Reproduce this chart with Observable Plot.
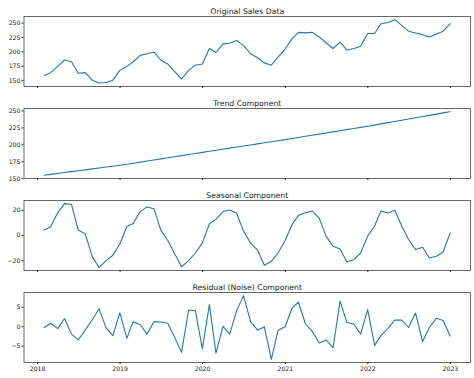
<!DOCTYPE html>
<html>
<head>
<meta charset="utf-8">
<script src="https://cdn.jsdelivr.net/npm/d3@7"></script>
<script src="https://cdn.jsdelivr.net/npm/@observablehq/plot@0.6"></script>
<style>
  html, body { margin: 0; padding: 0; background: #fff; }
  #chart { position: relative; width: 474px; height: 378px; overflow: hidden; }
  #chart > div { position: absolute; left: 0; }
  svg { font-family: "DejaVu Sans", sans-serif; }
</style>
</head>
<body>
<div id="chart"></div>
<script>
// Titles
const titles = ["Original Sales Data", "Trend Component", "Seasonal Component", "Residual (Noise) Component"];

// Monthly series, Jan 2018 .. Dec 2022 (month-end)
const sales = [159,164,175,186,183,163,164,151,146,147,151,168,
  175,183,194,197,200,186,179,166,153,168,177,179,
  206,199,214,215,220,211,197,190,181,177,191,205,
  223,234,233,234,226,216,206,217,203,206,210,232,
  232,249,251,256,246,236,233,230,226,231,236,249];
const trend = [155,156.4,157.7,159.1,160.4,161.8,163.1,164.5,165.8,167.2,168.5,169.9,
  171.3,172.9,174.5,176.1,177.7,179.3,180.9,182.5,184.1,185.7,187.3,188.9,
  190.5,192.0,193.6,195.2,196.8,198.3,199.9,201.5,203.0,204.6,206.1,207.7,
  209.3,210.9,212.6,214.2,215.9,217.5,219.2,220.8,222.5,224.1,225.8,227.4,
  229.2,231.0,232.8,234.6,236.4,238.2,240.0,241.8,243.6,245.4,247.2,249.0];
const seasonal = [4.3,7,18,25.3,24.8,4.3,1.3,-17,-25.3,-20,-15.7,-6.7,
  7.2,9.6,19,22.7,21.3,4.3,-4,-14.7,-24.8,-20,-13.9,-5.9,
  9.3,12.8,19,20.3,17.6,3.5,-5.9,-11.7,-23.7,-20.5,-13.9,-4,
  8.8,16,18.1,19.5,13.6,-0.5,-8.5,-10.7,-21,-19.2,-13.9,-0.5,
  7.5,19.5,17.9,20,7.5,-3.2,-11.2,-9.3,-17.9,-16.5,-13.1,2.1];
const residual = [-0.2,0.9,-0.5,2.1,-1.9,-3.4,-0.8,1.8,4.6,-0.3,-2.3,3.6,
  -3.0,1.3,0.5,-1.9,1.3,1.2,0.9,-2.8,-6.6,4.3,4.1,-5.7,
  5.7,-6.8,0.1,-1.9,4.2,8.0,1.3,-0.9,0,-8.4,-0.9,0,
  4.8,6.3,0.7,-1.2,-4.2,-3.4,-5.4,6.6,1.1,0.7,-1.9,4.4,
  -4.8,-2.3,-0.4,1.7,1.7,-0.2,3.5,-3.8,-0.2,2.2,1.6,-2.4];

// Tick labels
const yearTicks = ["2018-01-01","2019-01-01","2020-01-01","2021-01-01","2022-01-01","2023-01-01"];
const salesTicks = [150,175,200,225,250];
const seasonalTicks = [-20,0,20];
const residualTicks = [-5,0,5];

// Month-end dates
const dates = d3.utcMonth.range(new Date(Date.UTC(2018,1,1)), new Date(Date.UTC(2023,1,1)))
  .map(d => new Date(+d - 864e5));

const xDomain = [new Date(Date.UTC(2017,10,2)), new Date(Date.UTC(2023,2,31))];

const panels = [
  {title: titles[0], values: sales, domain: [140, 261.5], ticks: salesTicks, top: 15.5},
  {title: titles[1], values: trend, domain: [150.3, 253.7], ticks: salesTicks, top: 107.5},
  {title: titles[2], values: seasonal, domain: [-27.8, 27.8], ticks: seasonalTicks, top: 200},
  {title: titles[3], values: residual, domain: [-9.2, 8.8], ticks: residualTicks, top: 292}
];

const chart = document.getElementById("chart");
const frameH = 70;
const mTop = 16;

panels.forEach((p, k) => {
  const last = k === panels.length - 1;
  const mBottom = last ? 16 : 6;
  const rows = dates.map((d, i) => ({date: d, value: p.values[i]}));
  const plot = Plot.plot({
    width: 474,
    height: mTop + frameH + mBottom,
    marginTop: mTop,
    marginBottom: mBottom,
    marginLeft: 23.5,
    marginRight: 4,
    style: {fontFamily: "DejaVu Sans, sans-serif", fontSize: "6.2px", color: "#222", background: "white"},
    x: {type: "utc", domain: xDomain, label: null},
    y: {domain: p.domain, label: null},
    marks: [
      Plot.line(rows, {x: "date", y: "value", stroke: "#1f77b4", strokeWidth: 1.1}),
      Plot.frame({stroke: "#444", strokeWidth: 0.8}),
      Plot.axisY({ticks: p.ticks, tickSize: 2, tickPadding: 1.5, fontSize: 6.2, label: null, tickFormat: d3.format("")}),
      Plot.axisX({ticks: yearTicks.map(s => new Date(s)), tickSize: 2, tickPadding: 2, label: null,
        fontSize: 6.2, tickFormat: last ? d3.utcFormat("%Y") : () => ""}),
      Plot.text([p.title], {text: d => d, frameAnchor: "top", lineAnchor: "bottom", dy: -3,
        fontSize: 7.7, fill: "#222"})
    ]
  });
  const wrap = document.createElement("div");
  wrap.style.top = (p.top - mTop) + "px";
  wrap.appendChild(plot);
  chart.appendChild(wrap);
});
</script>
</body>
</html>
